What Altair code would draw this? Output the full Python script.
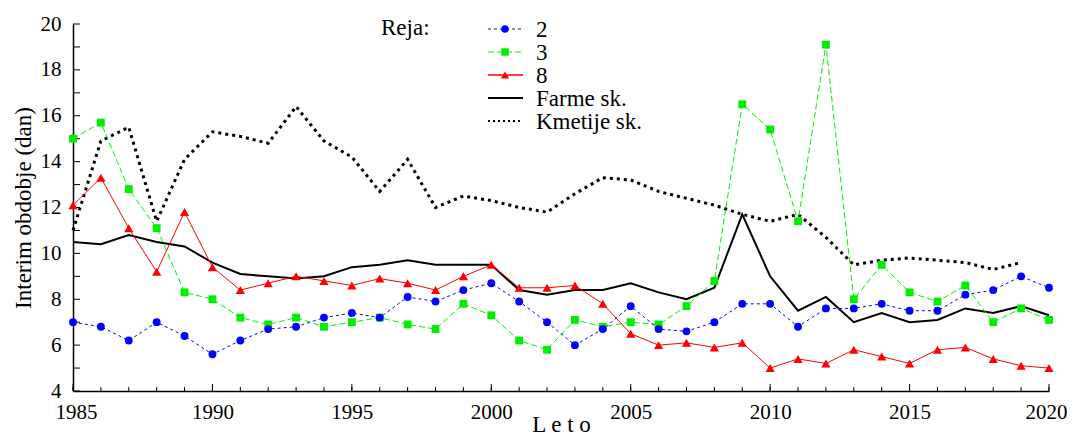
import altair as alt
import pandas as pd

years = list(range(1985, 2021))

reja_2 = [7.0, 6.8, 6.2, 7.0, 6.4, 5.6, 6.2, 6.7, 6.8, 7.2,
          7.4, 7.2, 8.1, 7.9, 8.4, 8.7, 7.9, 7.0, 6.0, 6.7,
          7.7, 6.7, 6.6, 7.0, 7.8, 7.8, 6.8, 7.6, 7.6, 7.8,
          7.5, 7.5, 8.2, 8.4, 9.0, 8.5]
reja_3 = [15.0, 15.7, 12.8, 11.1, 8.3, 8.0, 7.2, 6.9, 7.2, 6.8,
          7.0, 7.2, 6.9, 6.7, 7.8, 7.3, 6.2, 5.8, 7.1, 6.8,
          7.0, 6.9, 7.7, 8.8, 16.5, 15.4, 11.4, 19.1, 8.0, 9.5,
          8.3, 7.9, 8.6, 7.0, 7.6, 7.1]
reja_8 = [12.1, 13.3, 11.1, 9.2, 11.8, 9.4, 8.4, 8.7, 9.0, 8.8,
          8.6, 8.9, 8.7, 8.4, 9.0, 9.5, 8.5, 8.5, 8.6, 7.8,
          6.5, 6.0, 6.1, 5.9, 6.1, 5.0, 5.4, 5.2, 5.8, 5.5,
          5.2, 5.8, 5.9, 5.4, 5.1, 5.0]
farme = [10.5, 10.4, 10.8, 10.5, 10.3, 9.6, 9.1, 9.0, 8.9, 9.0,
         9.4, 9.5, 9.7, 9.5, 9.5, 9.5, 8.4, 8.2, 8.4, 8.4,
         8.7, 8.3, 8.0, 8.5, 11.7, 9.0, 7.5, 8.1, 7.0, 7.4,
         7.0, 7.1, 7.6, 7.4, 7.7, 7.3]
kmetije = [11.0, 14.9, 15.5, 11.4, 14.1, 15.3, 15.1, 14.8, 16.4, 14.9,
           14.2, 12.7, 14.1, 12.0, 12.5, 12.3, 12.0, 11.8, 12.6, 13.3,
           13.2, 12.7, 12.4, 12.1, 11.7, 11.4, 11.7, 10.7, 9.5, 9.7,
           9.8, 9.7, 9.6, 9.3, 9.6, None]

x_major = [1985, 1990, 1995, 2000, 2005, 2010, 2015, 2020]
y_ticks = list(range(4, 21))
y_labels = [4, 6, 8, 10, 12, 14, 16, 18, 20]

W, H = 976, 367
FONT = "Times New Roman"

x_scale = alt.Scale(domain=[1985, 2020], nice=False, zero=False)
y_scale = alt.Scale(domain=[4, 20], nice=False, zero=False)

x_axis = alt.Axis(values=x_major, format="d", title="L e t o", ticks=False, tickSize=0,
                  grid=False, domainColor="black", domainWidth=1.5,
                  labelFont=FONT, labelFontSize=21, labelColor="black", labelPadding=10,
                  labelFlush=True, labelFlushOffset=18,
                  titleFont=FONT, titleFontSize=23, titleFontWeight="normal", titleColor="black",
                  titleY=40, titleBaseline="alphabetic")
y_axis = alt.Axis(values=y_labels, format="d", title="Interim obdobje (dan)", ticks=False, tickSize=0,
                  grid=False, domainColor="black", domainWidth=1.5,
                  labelFont=FONT, labelFontSize=21, labelColor="black", labelPadding=12,
                  labelFlush=False,
                  titleFont=FONT, titleFontSize=23, titleFontWeight="normal", titleColor="black",
                  titleX=-50, titleY=H / 2, titleAngle=270, titleBaseline="middle", titleAlign="center")

X = alt.X("leto:Q", scale=x_scale, axis=x_axis)
Y = alt.Y("vrednost:Q", scale=y_scale, axis=y_axis)


def frame(vals):
    return pd.DataFrame({"leto": years, "vrednost": vals}).dropna()


layers = []

# axis ticks drawn inward
layers.append(alt.Chart(pd.DataFrame({"leto": years})).mark_rule(color="black", strokeWidth=1).encode(
    x=X, y=alt.value(H), y2=alt.value(H - 4)))
layers.append(alt.Chart(pd.DataFrame({"leto": x_major})).mark_rule(color="black", strokeWidth=1).encode(
    x=X, y=alt.value(H), y2=alt.value(H - 7)))
layers.append(alt.Chart(pd.DataFrame({"vrednost": y_ticks})).mark_rule(color="black", strokeWidth=1).encode(
    y=Y, x=alt.value(0), x2=alt.value(7)))

series = [
    (kmetije, "black", [3, 4], 3, None),
    (farme, "black", None, 2, None),
    (reja_3, "#00ee00", [6, 3], 1, "square"),
    (reja_2, "#0000ff", [3, 3], 1, "circle"),
    (reja_8, "#ff0000", None, 1, "triangle-up"),
]

for vals, col, dash, sw, shape in series:
    kw = dict(color=col, strokeWidth=sw, strokeCap="butt")
    if dash:
        kw["strokeDash"] = dash
    layers.append(alt.Chart(frame(vals)).mark_line(**kw).encode(x=X, y=Y))

for vals, col, dash, sw, shape in series:
    if shape:
        size = 85 if shape == "triangle-up" else 62
        layers.append(alt.Chart(frame(vals)).mark_point(
            filled=True, shape=shape, size=size, color=col, opacity=1, strokeWidth=0).encode(x=X, y=Y))

# legend
one = pd.DataFrame({"k": [0]})
layers.append(alt.Chart(one).mark_text(text="Reja:", font=FONT, fontSize=23, align="left",
                                       baseline="middle", color="black").encode(
    x=alt.value(308), y=alt.value(4)))

legend_rows = [
    ("2", "#0000ff", [3, 3], 1, "circle"),
    ("3", "#00ee00", [6, 3], 1, "square"),
    ("8", "#ff0000", None, 1.5, "triangle-up"),
    ("Farme sk.", "black", None, 2, None),
    ("Kmetije sk.", "black", [2, 3], 2, None),
]
for i, (lab, col, dash, sw, shape) in enumerate(legend_rows):
    yy = 5 + i * 23
    kw = dict(color=col, strokeWidth=sw, strokeCap="butt")
    if dash:
        kw["strokeDash"] = dash
    layers.append(alt.Chart(one).mark_rule(**kw).encode(
        x=alt.value(415), x2=alt.value(450), y=alt.value(yy)))
    if shape:
        size = 70 if shape == "triangle-up" else 56
        layers.append(alt.Chart(one).mark_point(filled=True, shape=shape, size=size, color=col,
                                                opacity=1, strokeWidth=0).encode(
            x=alt.value(432), y=alt.value(yy)))
    layers.append(alt.Chart(one).mark_text(text=lab, font=FONT, fontSize=23, align="left",
                                           baseline="middle", color="black").encode(
        x=alt.value(463), y=alt.value(yy + 1)))

chart = alt.layer(*layers).properties(
    width=W, height=H,
    autosize=alt.AutoSizeParams(type="none"),
    padding={"left": 65, "top": 16, "right": 18, "bottom": 45},
).configure_view(stroke=None)

chart.save("out.html", embed_options={"renderer": "svg", "actions": False})
